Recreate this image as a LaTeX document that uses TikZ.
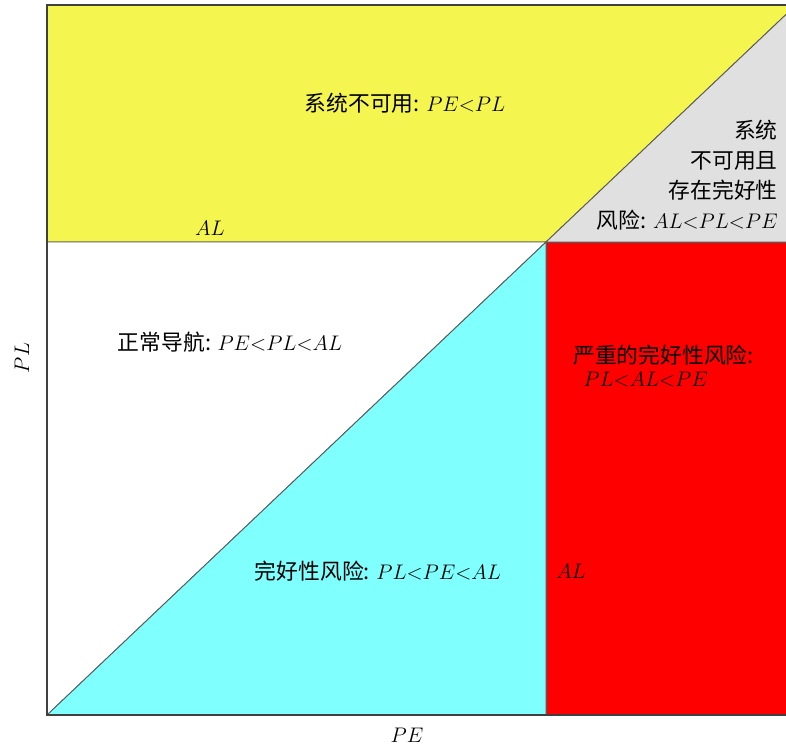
\documentclass[tikz,border=0pt]{standalone}
\usepackage{fontspec}
\usepackage{amsmath}
\newfontfamily\cjk{Noto Sans CJK SC}
\usetikzlibrary{calc}
\definecolor{unavail}{RGB}{245,245,80}
\definecolor{hmi}{RGB}{128,255,255}
\definecolor{bothrisk}{RGB}{224,224,224}
\tikzset{
  region/.style={draw=black!65, line width=0.5pt},
  lbl/.style={inner sep=0pt, font=\fontsize{12.4}{17}\selectfont\cjk}
}

\begin{document}
\begin{tikzpicture}[x=0.02cm, y=0.02cm]
  \useasboundingbox (-47,-30) rectangle (739,715);
  \begin{scope}
  \clip (-47,-30) rectangle (739,715);
  % fill regions
  \filldraw[region, fill=unavail] (0,473) -- (499,473) -- (749,710) -- (0,710) -- cycle;
  \filldraw[region, fill=bothrisk] (499,473) -- (749,473) -- (749,710) -- cycle;
  \filldraw[region, fill=white] (0,0) -- (499,473) -- (0,473) -- cycle;
  \filldraw[region, fill=hmi] (0,0) -- (499,0) -- (499,473) -- cycle;
  \filldraw[region, fill=red] (499,0) -- (749,0) -- (749,473) -- (499,473) -- cycle;
  \draw[black!75, line width=0.6pt] (0,0) rectangle (749,710); % frame
  \end{scope}

  %draw labels
  \node[lbl] (unav) at (358,612) {系统不可用: $PE{<}PL$};
  \node[lbl] (altop) at (163,487) {$AL$};
  \node[lbl, anchor=east, align=right] (both) at (731,540) {系统\\不可用且\\存在完好性\\风险: $AL{<}PL{<}PE$};
  \node[lbl] (normal) at (183,373) {正常导航: $PE{<}PL{<}AL$};
  \node[lbl, anchor=west] (severe) at (526,360) {严重的完好性风险:};
  \node[lbl, anchor=west] (severeb) at (536,335) {$PL{<}AL{<}PE$};
  \node[lbl] (risk) at (331,144) {完好性风险: $PL{<}PE{<}AL$};
  \node[lbl] (alright) at (524,144) {$AL$};
  \node[lbl] (pe) at (360,-20) {$PE$};
  \node[lbl, rotate=90] (pl) at (-25,357) {$PL$};
\end{tikzpicture}
\end{document}
